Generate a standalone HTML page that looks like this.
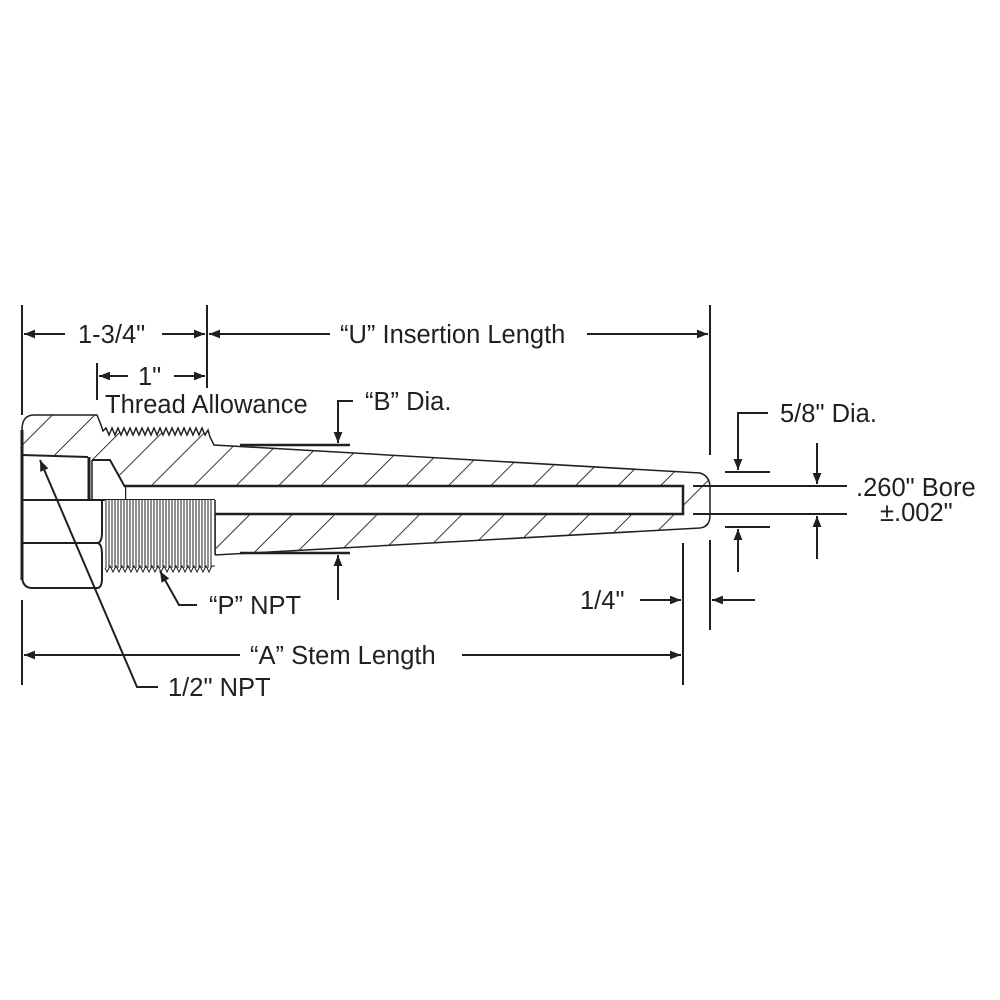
<!DOCTYPE html>
<html><head><meta charset="utf-8"><style>
html,body{margin:0;padding:0;background:#fff;}
svg{display:block;}
text{font-family:"Liberation Sans",sans-serif;font-size:25.5px;fill:#231f20;}
</style></head><body>
<svg width="1000" height="1000" viewBox="0 0 1000 1000" xmlns="http://www.w3.org/2000/svg">
<defs>
<marker id="ar" viewBox="0 0 10 10" refX="10" refY="5" markerWidth="16" markerHeight="11" markerUnits="userSpaceOnUse" orient="auto"><path d="M0,1 L10,5 L0,9 z" fill="#231f20"/></marker>
<pattern id="hatch" patternUnits="userSpaceOnUse" width="30" height="30" patternTransform="rotate(45)">
<line x1="0" y1="0" x2="0" y2="30" stroke="#231f20" stroke-width="1.8"/>
</pattern>
</defs>
<g stroke="#231f20" fill="none" stroke-width="2">
<path d="M22,455 L22,430 Q22,415 34,415 L97,415 L101,425 L103,431
L106,428 L109,435 L112,428 L115,435 L118,428 L121,435 L124,428 L127,435 L130,428 L133,435 L136,428 L139,435 L142,428 L145,435 L148,428 L151,435 L154,428 L157,435 L160,428 L163,435 L166,428 L169,435 L172,428 L175,435 L178,428 L181,435 L184,428 L187,435 L190,428 L193,435 L196,428 L199,435 L202,428 L205,435 L208,430
L210,437 L214,445 L700,473 Q710,476 710,488 L710,515 Q710,527 700,528 L215,555 L215,500 L22,500 Z" fill="url(#hatch)" stroke-width="1.5"/>
<rect x="125" y="486" width="558" height="28" fill="#fff" stroke-width="2.5"/>
<path d="M22,455 L110,460 L125,487 L125,500 L22,500 Z" fill="#fff" stroke="none"/>
<path d="M22,455 L88,457 M92,460 L110,460 L125,487" stroke-width="2"/>
<line x1="89" y1="457" x2="89" y2="500" stroke-width="3"/>
<line x1="92" y1="460" x2="92" y2="500" stroke-width="1.5"/>
<path d="M22,455 L22,575 Q22,588 32,588 L97,588 Q102,588 102,578 L102,555 Q102,543 97,543 L22,543 M22,543 L97,543 Q102,543 102,532 L102,500" fill="#fff" stroke-width="2"/>
<line x1="22" y1="500" x2="215" y2="500" stroke-width="2"/>
<path d="M22,430 L22,580" stroke-width="3"/>
<rect x="105" y="500" width="110" height="68" fill="#fff" stroke="none"/>
<g stroke-width="1">
<path d="M106,500V568M109,500V568M112,500V568M115,500V568M118,500V568M121,500V568M124,500V568M127,500V568M130,500V568M133,500V568M136,500V568M139,500V568M142,500V568M145,500V568M148,500V568M151,500V568M154,500V568M157,500V568M160,500V568M163,500V568M166,500V568M169,500V568M172,500V568M175,500V568M178,500V568M181,500V568M184,500V568M187,500V568M190,500V568M193,500V568M196,500V568M199,500V568M202,500V568M205,500V568M208,500V568M211,500V568"/>
<path d="M105,568 L107,572 L110,566 L113,572 L116,566 L119,572 L122,566 L125,572 L128,566 L131,572 L134,566 L137,572 L140,566 L143,572 L146,566 L149,572 L152,566 L155,572 L158,566 L161,572 L164,566 L167,572 L170,566 L173,572 L176,566 L179,572 L182,566 L185,572 L188,566 L191,572 L194,566 L197,572 L200,566 L203,572 L206,566 L209,572 L212,566 L215,566"/>
</g>
<line x1="215" y1="500" x2="215" y2="555" stroke-width="1.5"/>
<line x1="240" y1="445" x2="350" y2="445" stroke-width="2.5"/>
<line x1="240" y1="553" x2="350" y2="553" stroke-width="2.5"/>
<line x1="22" y1="305" x2="22" y2="415"/>
<line x1="207" y1="305" x2="207" y2="388"/>
<line x1="97" y1="363" x2="97" y2="400"/>
<line x1="710" y1="305" x2="710" y2="455"/>
<line x1="710" y1="540" x2="710" y2="630"/>
<line x1="683" y1="543" x2="683" y2="685"/>
<line x1="22" y1="600" x2="22" y2="685"/>
<line x1="693" y1="486" x2="847" y2="486"/>
<line x1="693" y1="514" x2="847" y2="514"/>
<line x1="725" y1="472" x2="770" y2="472"/>
<line x1="725" y1="527" x2="770" y2="527"/>
<line x1="65" y1="334" x2="24" y2="334" marker-end="url(#ar)"/>
<line x1="162" y1="334" x2="205" y2="334" marker-end="url(#ar)"/>
<line x1="330" y1="334" x2="209" y2="334" marker-end="url(#ar)"/>
<line x1="587" y1="334" x2="708" y2="334" marker-end="url(#ar)"/>
<line x1="128" y1="376" x2="99" y2="376" marker-end="url(#ar)"/>
<line x1="174" y1="376" x2="205" y2="376" marker-end="url(#ar)"/>
<line x1="240" y1="655" x2="24" y2="655" marker-end="url(#ar)"/>
<line x1="462" y1="655" x2="681" y2="655" marker-end="url(#ar)"/>
<line x1="640" y1="600" x2="681" y2="600" marker-end="url(#ar)"/>
<line x1="755" y1="600" x2="712" y2="600" marker-end="url(#ar)"/>
<path d="M353,401 L338,401 L338,443" marker-end="url(#ar)"/>
<line x1="338" y1="600" x2="338" y2="555" marker-end="url(#ar)"/>
<path d="M768,413 L738,413 L738,470" marker-end="url(#ar)"/>
<line x1="738" y1="572" x2="738" y2="529" marker-end="url(#ar)"/>
<line x1="817" y1="443" x2="817" y2="484" marker-end="url(#ar)"/>
<line x1="817" y1="559" x2="817" y2="516" marker-end="url(#ar)"/>
<path d="M197,605 L179,605 L160,571" marker-end="url(#ar)"/>
<path d="M158,687 L137,687 L40,460" marker-end="url(#ar)"/>
</g>
<text x="78" y="343">1-3/4"</text>
<text x="138" y="385">1"</text>
<text x="105" y="413">Thread Allowance</text>
<text x="340" y="343">“U” Insertion Length</text>
<text x="365" y="410">“B” Dia.</text>
<text x="780" y="422">5/8" Dia.</text>
<text x="856" y="496">.260" Bore</text>
<text x="880" y="521">±.002"</text>
<text x="580" y="609">1/4"</text>
<text x="209" y="614">“P” NPT</text>
<text x="250" y="664">“A” Stem Length</text>
<text x="168" y="696">1/2" NPT</text>
</svg>
</body></html>
